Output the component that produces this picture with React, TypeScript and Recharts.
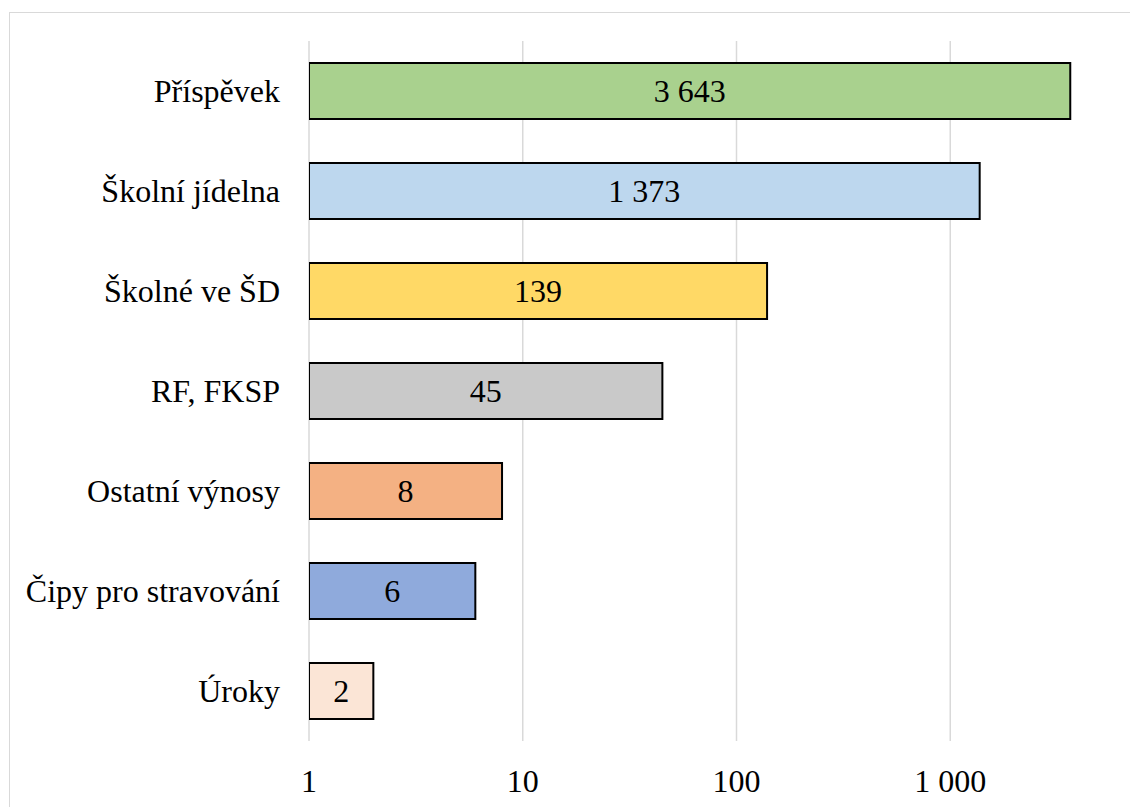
import React from "react";
import { BarChart, Bar, XAxis, YAxis, CartesianGrid, Cell, LabelList } from "recharts";

const categories = [
  "Příspěvek",
  "Školní jídelna",
  "Školné ve ŠD",
  "RF, FKSP",
  "Ostatní výnosy",
  "Čipy pro stravování",
  "Úroky",
];
const values = [3643, 1373, 139, 45, 8, 6, 2];
const barColors = ["#a9d18e", "#bdd7ee", "#ffd966", "#c9c9c9", "#f4b183", "#8faadc", "#fbe5d6"];
const xTicks = [1, 10, 100, 1000];
const xTickLabels = ["1", "10", "100", "1 000"];

const data = categories.map((name, i) => ({ name, value: values[i] }));

const fmt = (v: number) => String(v).replace(/\B(?=(\d{3})+(?!\d))/g, " ");
const FONT = "'Liberation Serif', 'Times New Roman', serif";

export default function App() {
  return (
    <div style={{ position: "fixed", left: 0, top: 0, width: 1130, height: 807, overflow: "hidden", background: "#fff" }}>
      <div
        style={{
          position: "absolute",
          left: 9,
          top: 12,
          width: 1300,
          height: 1000,
          border: "1.5px solid #d9d9d9",
          boxSizing: "border-box",
        }}
      />
      <div style={{ position: "absolute", left: 0, top: 0 }}>
        <BarChart
          width={1200}
          height={807}
          data={data}
          layout="vertical"
          margin={{ top: 41, right: 36, bottom: 6, left: 0 }}
          barCategoryGap="22%"
        >
          <CartesianGrid horizontal={false} stroke="#d9d9d9" strokeWidth={1.5} />
          <XAxis
            type="number"
            scale="log"
            domain={[1, 10000]}
            ticks={xTicks}
            allowDataOverflow
            axisLine={false}
            tickLine={false}
            tickSize={0}
            tickMargin={28}
            height={60}
            interval={0}
            tickFormatter={(v: number) => xTickLabels[xTicks.indexOf(v)] ?? fmt(v)}
            tick={{ fill: "#000", fontSize: 32, fontFamily: FONT }}
          />
          <YAxis
            type="category"
            dataKey="name"
            width={309}
            axisLine={false}
            tickLine={false}
            tickSize={0}
            tickMargin={29}
            interval={0}
            tick={{ fill: "#000", fontSize: 32, fontFamily: FONT }}
          />
          <Bar dataKey="value" stroke="#000" strokeWidth={2} isAnimationActive={false}>
            {data.map((d, i) => (
              <Cell key={d.name} fill={barColors[i]} />
            ))}
            <LabelList
              dataKey="value"
              position="center"
              formatter={(v: number) => fmt(v)}
              style={{ fill: "#000", fontSize: 32, fontFamily: FONT }}
            />
          </Bar>
        </BarChart>
      </div>
    </div>
  );
}
